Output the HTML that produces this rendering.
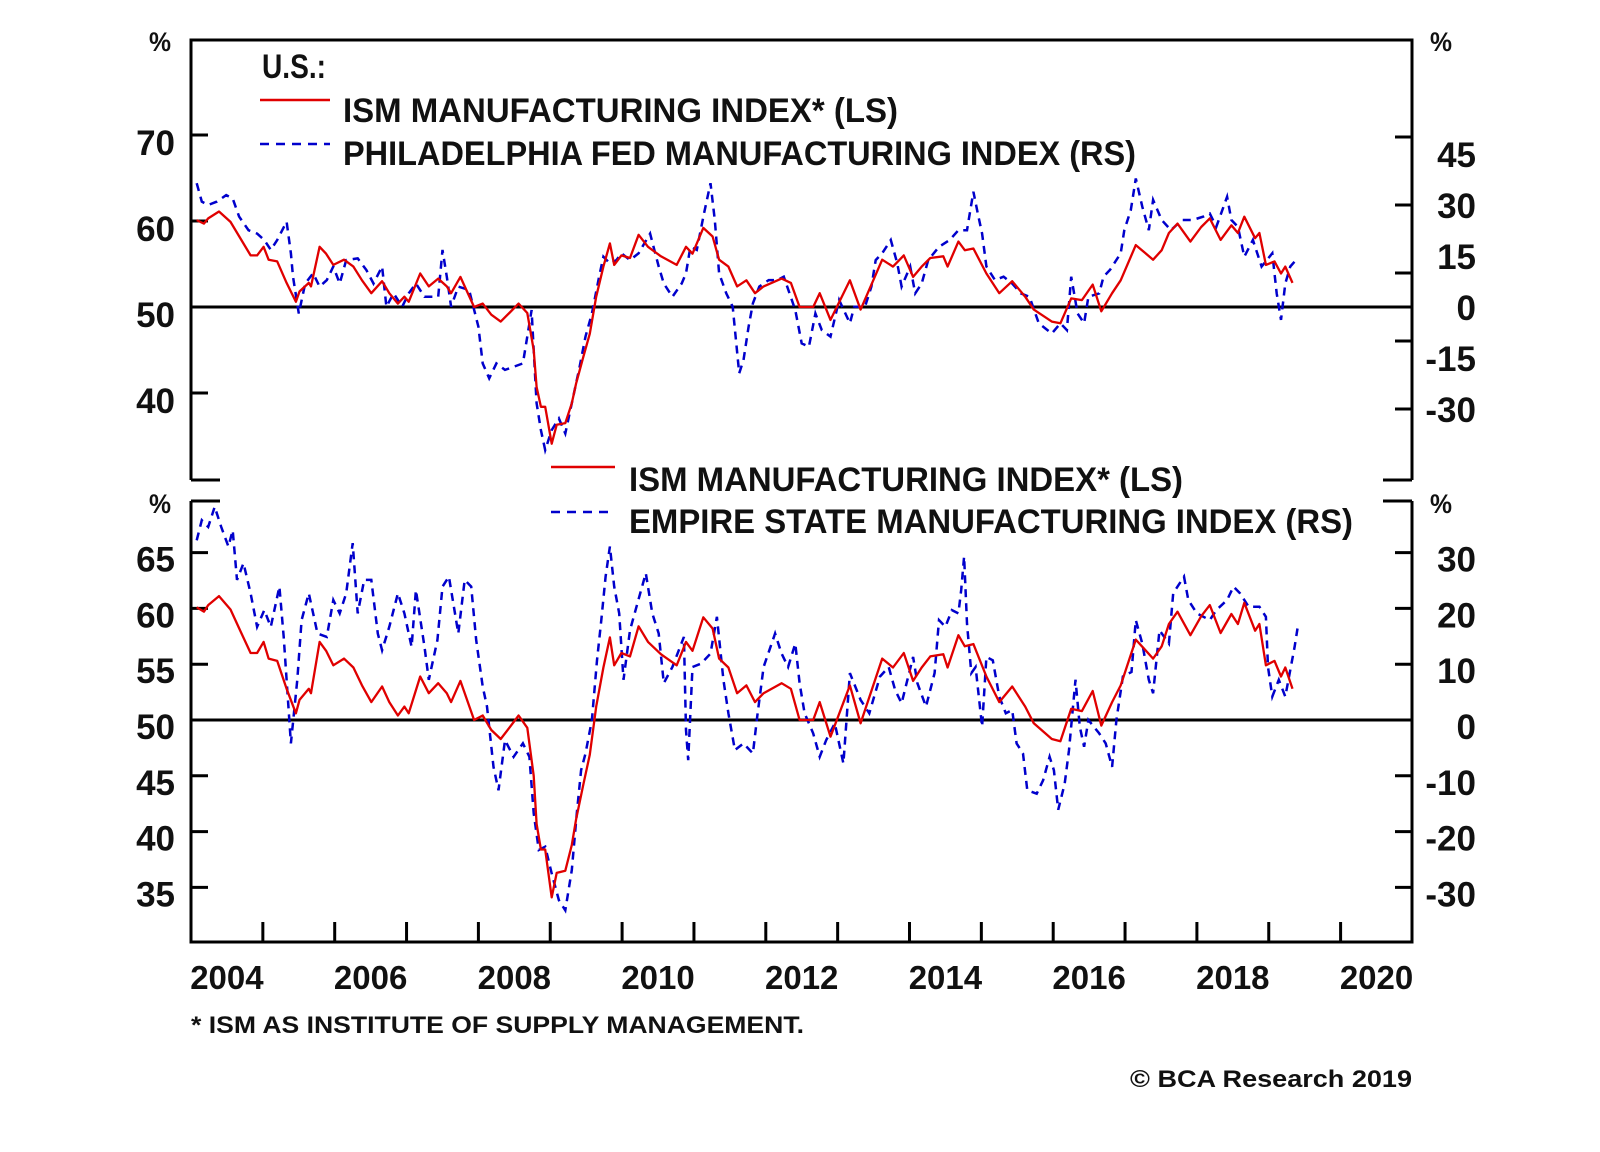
<!DOCTYPE html>
<html><head><meta charset="utf-8"><title>ISM vs regional Fed manufacturing surveys</title>
<style>
html,body{margin:0;padding:0;background:#fff;}
svg{display:block;}
text{font-family:"Liberation Sans",Arial,sans-serif;font-weight:bold;fill:#111;}
</style></head>
<body>
<svg id="chart" width="1600" height="1152" viewBox="0 0 1600 1152" xmlns="http://www.w3.org/2000/svg">
<g id="frame" stroke="#000" stroke-width="3" fill="none">
<path d="M191,480 V40 H1412 V480"/>
<path d="M191,480 H220 M1383,480 H1412"/>
<path d="M191,501 V942 H1412 V501"/>
<path d="M191,501 H220 M1383,501 H1412"/>
</g>
<g id="axes"></g>
<g id="series"></g>
<g id="legend">
<text x="262" y="78" font-size="34" textLength="64" lengthAdjust="spacingAndGlyphs">U.S.:</text>
<line x1="260" y1="100" x2="330" y2="100" stroke="#e00000" stroke-width="2.5"/>
<text x="343" y="122" font-size="34" textLength="555" lengthAdjust="spacingAndGlyphs">ISM MANUFACTURING INDEX* (LS)</text>
<line x1="260" y1="144" x2="330" y2="144" stroke="#0000cc" stroke-width="2.5" stroke-dasharray="9,7"/>
<text x="343" y="165" font-size="34" textLength="793" lengthAdjust="spacingAndGlyphs">PHILADELPHIA FED MANUFACTURING INDEX (RS)</text>
<line x1="551" y1="467" x2="615" y2="467" stroke="#e00000" stroke-width="2.5"/>
<text x="629" y="491" font-size="34" textLength="554" lengthAdjust="spacingAndGlyphs">ISM MANUFACTURING INDEX* (LS)</text>
<line x1="551" y1="512" x2="615" y2="512" stroke="#0000cc" stroke-width="2.5" stroke-dasharray="9,7"/>
<text x="629" y="533" font-size="34" textLength="724" lengthAdjust="spacingAndGlyphs">EMPIRE STATE MANUFACTURING INDEX (RS)</text>
</g>
<text x="191" y="1033" font-size="24" textLength="613" lengthAdjust="spacingAndGlyphs">* ISM AS INSTITUTE OF SUPPLY MANAGEMENT.</text>
<text x="1130" y="1087" font-size="24" textLength="282" lengthAdjust="spacingAndGlyphs">© BCA Research 2019</text>
</svg>
<script>
// ---- data ----
const ismDates = [2004.08,2004.18,2004.24,2004.39,2004.55,2004.70,2004.83,2004.92,2005.01,2005.08,2005.20,2005.33,2005.46,2005.51,2005.64,2005.67,2005.79,2005.88,2005.98,2006.13,2006.26,2006.38,2006.51,2006.66,2006.76,2006.88,2006.97,2007.03,2007.19,2007.31,2007.44,2007.56,2007.62,2007.75,2007.94,2008.06,2008.18,2008.31,2008.43,2008.56,2008.68,2008.77,2008.81,2008.87,2008.93,2009.02,2009.09,2009.21,2009.30,2009.36,2009.46,2009.55,2009.64,2009.74,2009.83,2009.89,2009.99,2010.11,2010.23,2010.36,2010.54,2010.76,2010.89,2010.98,2011.13,2011.26,2011.35,2011.48,2011.60,2011.73,2011.85,2011.97,2012.22,2012.35,2012.47,2012.66,2012.75,2012.90,2013.17,2013.32,2013.62,2013.77,2013.92,2014.05,2014.17,2014.29,2014.47,2014.53,2014.68,2014.77,2014.89,2015.07,2015.25,2015.43,2015.61,2015.73,2015.98,2016.10,2016.25,2016.40,2016.55,2016.67,2016.82,2016.94,2017.15,2017.39,2017.51,2017.61,2017.73,2017.91,2018.06,2018.18,2018.33,2018.48,2018.57,2018.66,2018.81,2018.87,2018.96,2019.08,2019.17,2019.23,2019.33];
const ismValues = [60.1,59.7,60.3,61.1,59.9,57.8,56.0,56.0,57.0,55.5,55.3,52.8,50.6,51.8,52.8,52.4,57.0,56.2,54.9,55.5,54.7,53.1,51.6,53.0,51.6,50.4,51.2,50.6,53.9,52.4,53.3,52.4,51.6,53.5,50.0,50.4,49.1,48.3,49.3,50.4,49.3,45.0,40.7,38.4,38.4,34.1,36.3,36.5,38.8,41.1,44.2,46.9,51.2,54.7,57.4,54.9,56.0,55.7,58.4,57.0,55.9,54.9,57.0,56.2,59.2,58.2,55.5,54.7,52.4,53.1,51.6,52.4,53.3,52.8,50.0,50.0,51.6,48.5,53.1,49.7,55.5,54.7,56.0,53.5,54.7,55.7,55.9,54.7,57.6,56.6,56.8,53.9,51.6,53.0,51.2,49.7,48.3,48.1,51.0,50.8,52.6,49.5,51.6,53.1,57.2,55.5,56.6,58.6,59.7,57.6,59.3,60.3,57.8,59.5,58.6,60.5,58.0,58.6,54.9,55.3,53.9,54.7,52.8];
const phillyDates = [2004.08,2004.15,2004.24,2004.36,2004.49,2004.58,2004.67,2004.80,2004.92,2005.02,2005.11,2005.20,2005.33,2005.39,2005.42,2005.50,2005.59,2005.70,2005.79,2005.89,2005.98,2006.07,2006.16,2006.32,2006.44,2006.54,2006.66,2006.72,2006.82,2006.94,2007.03,2007.13,2007.25,2007.44,2007.50,2007.56,2007.62,2007.72,2007.87,2008.00,2008.06,2008.15,2008.25,2008.37,2008.49,2008.62,2008.74,2008.77,2008.81,2008.87,2008.93,2009.02,2009.12,2009.21,2009.30,2009.40,2009.49,2009.58,2009.68,2009.74,2009.83,2009.92,2009.99,2010.11,2010.23,2010.39,2010.51,2010.58,2010.70,2010.83,2010.89,2010.95,2011.04,2011.14,2011.23,2011.29,2011.35,2011.45,2011.54,2011.63,2011.69,2011.76,2011.82,2011.91,2012.04,2012.16,2012.25,2012.41,2012.50,2012.60,2012.69,2012.78,2012.90,2013.02,2013.17,2013.23,2013.38,2013.47,2013.53,2013.62,2013.74,2013.83,2013.89,2014.01,2014.08,2014.17,2014.26,2014.41,2014.56,2014.68,2014.80,2014.89,2014.95,2015.01,2015.07,2015.19,2015.31,2015.43,2015.55,2015.67,2015.80,2015.98,2016.10,2016.19,2016.25,2016.34,2016.43,2016.49,2016.64,2016.70,2016.79,2016.94,2016.99,2017.08,2017.15,2017.24,2017.33,2017.39,2017.51,2017.64,2017.79,2017.94,2018.09,2018.18,2018.27,2018.42,2018.48,2018.57,2018.66,2018.78,2018.90,2019.05,2019.11,2019.17,2019.23,2019.30,2019.40];
const phillyValues = [36.4,31,30,31,32.9,31.9,26.6,22.6,21.6,19.7,16.8,19.7,25.1,15.8,8.9,-1.9,6.9,9.9,6,7.9,11.9,6.9,13.8,14.3,10.9,6.9,11.9,0.1,4,0.1,4,6.9,3,3,16.8,8.9,0.1,6,5,-5.8,-16.6,-21,-16.6,-18.5,-17.6,-16.6,-0.9,-12.7,-28.3,-36.2,-42.1,-36.2,-32.8,-37.2,-28.3,-18.5,-8.7,-1.9,8.9,14.8,12.8,13.8,15.8,13.8,15.8,21.6,11.9,6.9,3,6.9,9.9,17.7,16.8,27.5,36.4,25.6,9.9,4,0.1,-19.5,-15.6,-5.8,1.1,6,7.9,7.9,8.9,-0.9,-10.7,-11.7,-1.9,-6.8,-8.7,2.1,-4.8,0.1,0.1,6,13.8,15.8,19.7,12.8,6,11.9,4,6.9,13.8,17.7,19.7,22.6,22.6,33.9,27.5,21.6,11.9,7.9,8.9,6.9,4,3,-4.8,-7.8,-4.8,-6.8,8.9,-1.9,-4.8,3,4,8.9,10.9,15.8,22.6,28.5,37.8,29.5,22.6,31.5,25.6,22.6,25.6,25.6,26.6,27.5,23.6,32.4,25.6,23.6,14.8,19.7,11.9,15.8,4,-3.8,6.9,11.9,14.3];
const empireDates = [2004.08,2004.15,2004.24,2004.33,2004.42,2004.52,2004.58,2004.64,2004.73,2004.83,2004.92,2005.02,2005.11,2005.23,2005.29,2005.39,2005.48,2005.54,2005.64,2005.76,2005.89,2005.98,2006.07,2006.16,2006.25,2006.32,2006.41,2006.51,2006.60,2006.66,2006.76,2006.88,2006.97,2007.07,2007.13,2007.25,2007.31,2007.43,2007.50,2007.59,2007.72,2007.81,2007.90,2007.97,2008.06,2008.12,2008.21,2008.28,2008.37,2008.49,2008.62,2008.71,2008.77,2008.84,2008.93,2009.02,2009.12,2009.21,2009.30,2009.37,2009.43,2009.49,2009.58,2009.65,2009.71,2009.77,2009.83,2009.89,2009.96,2010.02,2010.11,2010.20,2010.33,2010.42,2010.51,2010.58,2010.70,2010.86,2010.89,2010.92,2010.98,2011.10,2011.23,2011.32,2011.41,2011.48,2011.57,2011.69,2011.82,2011.88,2011.97,2012.13,2012.22,2012.31,2012.41,2012.47,2012.54,2012.66,2012.75,2012.84,2012.96,2013.08,2013.17,2013.32,2013.44,2013.59,2013.71,2013.80,2013.89,2014.05,2014.11,2014.23,2014.35,2014.41,2014.50,2014.59,2014.68,2014.72,2014.76,2014.80,2014.86,2014.92,2014.98,2015.01,2015.07,2015.16,2015.25,2015.34,2015.43,2015.49,2015.58,2015.64,2015.77,2015.86,2015.95,2016.01,2016.07,2016.16,2016.22,2016.31,2016.37,2016.43,2016.49,2016.64,2016.73,2016.82,2016.88,2016.97,2017.09,2017.15,2017.24,2017.33,2017.39,2017.48,2017.61,2017.67,2017.82,2017.88,2018.00,2018.18,2018.27,2018.42,2018.51,2018.60,2018.72,2018.87,2018.96,2018.99,2019.05,2019.14,2019.23,2019.36,2019.40];
const empireValues = [32.2,35.8,34.6,38.2,34.6,31.1,34.0,25.1,28.1,22.7,16.7,19.7,16.7,23.9,14.9,-4.2,7.2,17.9,22.7,15.5,14.9,21.5,19.1,22.7,31.7,19.1,25.1,25.1,15.5,12.5,16.7,22.7,19.1,13.1,23.3,13.1,7.2,14.3,23.9,25.7,15.5,25.1,23.9,14.3,6,2.4,-8.4,-12.6,-3.6,-6.6,-4.2,-6.6,-16.7,-23.3,-22.7,-27.5,-32.3,-34.1,-26.9,-16.7,-9,-6,0,10.7,17.9,25.7,31.1,23.9,19.1,7.2,16.1,20.3,26.3,19.1,15.5,6.6,9.5,14.9,-1.8,-7.2,9.5,10.1,11.9,18.5,7.2,1.2,-5.4,-4.2,-6,0.6,9.5,15.5,11.9,9.5,13.7,6.6,1.2,-2.4,-6.6,-3.6,-0.6,-7.8,8.4,3.6,1.2,7.8,9.5,5.4,3,11.3,6.6,2.4,8.4,17.9,16.7,19.7,19.1,23.3,29.3,17.3,8.4,9.5,2.4,-1.2,11.3,10.7,4.2,1.2,1.8,-4.2,-6,-12.6,-13.2,-10.8,-6.6,-9,-16.1,-11.4,-5.4,7.2,-1.2,-4.8,0,-2.4,-4.2,-8.4,0,7.8,8.6,17.9,13.7,7.2,4.8,16.1,13.7,22.7,25.7,21.5,19.1,17.9,19.7,21.5,23.9,22.7,20.3,20.3,18.5,9.5,4.2,7.2,4.2,13.1,16.4];
const xTickYears = [2005,2006,2007,2008,2009,2010,2011,2012,2013,2014,2015,2016,2017,2018,2019,2020];
const xLabelYears = [2004,2006,2008,2010,2012,2014,2016,2018,2020];
const topLeftTicks = [70,60,50,40];
const topRightLabels = [45,30,15,0,-15,-30];
const topRightTicks = [50,30,10,-10,-30];
const botLeftTicks = [65,60,55,50,45,40,35];
const botRightTicks = [30,20,10,0,-10,-20,-30];

// ---- scales ----
const X0=191, YEAR_PX=71.85;
const x = t => X0 + (t-2004)*YEAR_PX;
const yTopL = v => 307 - (v-50)*8.6;
const yTopR = v => 307 - v*3.4;
const yBotL = v => 720 - (v-50)*11.16;
const yBotR = v => 720 - v*5.58;

const NS='http://www.w3.org/2000/svg';
const axes=document.getElementById('axes');
const series=document.getElementById('series');
function mk(tag, attrs, parent){
  const e=document.createElementNS(NS,tag);
  for(const k in attrs) e.setAttribute(k,attrs[k]);
  parent.appendChild(e); return e;
}
function txt(s, attrs, parent){ const e=mk('text',attrs,parent); e.textContent=s; return e; }

let z=mk('line',{x1:191,x2:1412,y1:yTopR(0),y2:yTopR(0),stroke:'#000','stroke-width':3},axes);


z=mk('line',{x1:191,x2:1412,y1:yBotR(0),y2:yBotR(0),stroke:'#000','stroke-width':3},axes);



xTickYears.forEach(yr=>{
  const l=mk('line',{x1:x(yr),x2:x(yr),y1:922,y2:942,stroke:'#000','stroke-width':3},axes);
  
  
});
xLabelYears.forEach(yr=>{
  const t=txt(String(yr),{x:x(yr+0.5),y:989,'font-size':33,'text-anchor':'middle'},axes);
  
  
});

topLeftTicks.forEach(v=>{
  const l=mk('line',{x1:191,x2:208,y1:yTopL(v),y2:yTopL(v),stroke:'#000','stroke-width':3},axes);
  
  
  const t=txt(String(v),{x:175,y:yTopL(v)+20,'font-size':35,'text-anchor':'end'},axes);
  
  
});
topRightTicks.forEach(v=>{
  const l=mk('line',{x1:1395,x2:1412,y1:yTopR(v),y2:yTopR(v),stroke:'#000','stroke-width':3},axes);
  
  
});
topRightLabels.forEach(v=>{
  const t=txt(String(v),{x:1476,y:yTopR(v)+13,'font-size':35,'text-anchor':'end'},axes);
  
  
});
botLeftTicks.forEach(v=>{
  const l=mk('line',{x1:191,x2:208,y1:yBotL(v),y2:yBotL(v),stroke:'#000','stroke-width':3},axes);
  
  
  const t=txt(String(v),{x:175,y:yBotL(v)+19,'font-size':35,'text-anchor':'end'},axes);
  
  
});
botRightTicks.forEach(v=>{
  const l=mk('line',{x1:1395,x2:1412,y1:yBotR(v),y2:yBotR(v),stroke:'#000','stroke-width':3},axes);
  
  
  const t=txt(String(v),{x:1476,y:yBotR(v)+19,'font-size':35,'text-anchor':'end'},axes);
  
  
});
[[160,51],[1441,51],[160,513],[1441,513]].forEach(p=>{
  const t=txt('%',{x:p[0],y:p[1],'font-size':27,'text-anchor':'middle',textLength:22,lengthAdjust:'spacingAndGlyphs'},axes);
  
  
});

function path(dates, vals, ys){
  return dates.map((d,i)=>(i?'L':'M')+x(d).toFixed(1)+','+ys(vals[i]).toFixed(1)).join('');
}
let p=mk('path',{d:path(phillyDates,phillyValues,yTopR),fill:'none',stroke:'#0000cc','stroke-width':2.5,'stroke-dasharray':'8,6'},series);


p=mk('path',{d:path(ismDates,ismValues,yTopL),fill:'none',stroke:'#e00000','stroke-width':2.3,'stroke-linejoin':'round'},series);


p=mk('path',{d:path(empireDates,empireValues,yBotR),fill:'none',stroke:'#0000cc','stroke-width':2.5,'stroke-dasharray':'8,6'},series);


p=mk('path',{d:path(ismDates,ismValues,yBotL),fill:'none',stroke:'#e00000','stroke-width':2.3,'stroke-linejoin':'round'},series);


</script>
</body></html>
